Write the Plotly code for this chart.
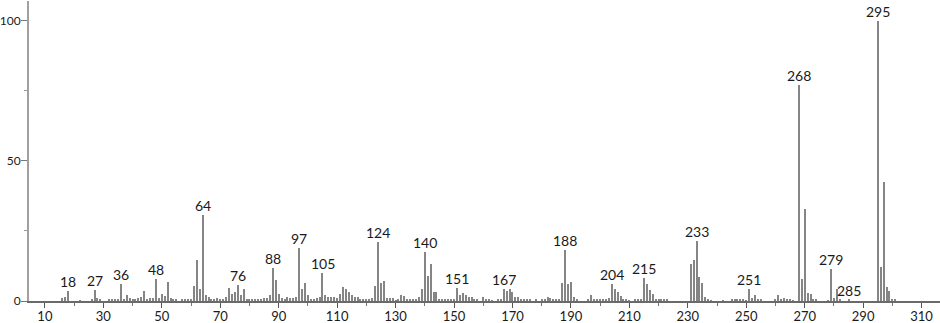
import plotly.graph_objects as go

# m/z values and relative intensities
mz = [16, 17, 18, 22, 26, 27, 28, 29, 32, 33, 34, 35, 36, 37, 38, 39, 40, 41, 42, 43,
      44, 45, 46, 47, 48, 49, 50, 51, 52, 53, 54, 55, 57, 58, 59, 60, 61, 62, 63, 64,
      65, 66, 67, 68, 69, 70, 71, 72, 73, 74, 75, 76, 77, 78, 79, 80, 81, 82, 83, 84,
      85, 86, 87, 88, 89, 90, 91, 92, 93, 94, 95, 96, 97, 98, 99, 100, 101, 102, 103, 104,
      105, 106, 107, 108, 109, 110, 111, 112, 113, 114, 115, 116, 117, 118, 119, 120, 121, 122, 123, 124,
      125, 126, 127, 128, 129, 130, 131, 132, 133, 134, 135, 136, 137, 138, 139, 140, 141, 142, 143, 144,
      145, 146, 147, 148, 149, 150, 151, 152, 153, 154, 155, 156, 157, 158, 160, 161, 162, 163, 165, 166,
      167, 168, 169, 170, 171, 172, 173, 174, 175, 176, 178, 180, 181, 182, 183, 184, 185, 186, 187, 188,
      189, 190, 191, 192, 196, 197, 198, 199, 200, 201, 202, 203, 204, 205, 206, 207, 208, 209, 210, 212,
      213, 214, 215, 216, 217, 218, 219, 220, 221, 222, 223, 231, 232, 233, 234, 235, 236, 237, 238, 242,
      245, 246, 247, 248, 249, 250, 251, 252, 253, 254, 255, 260, 261, 262, 263, 264, 265, 266, 268, 269,
      270, 271, 272, 273, 274, 278, 279, 280, 281, 282, 285, 295, 296, 297, 298, 299, 300, 301]
intensity = [1.0, 1.4, 3.6, 0.3, 0.5, 3.9, 1.2, 0.5, 0.8, 0.5, 0.6, 0.4, 6.2, 0.5, 2.1, 1.2, 0.6, 0.5, 1.1, 1.5,
             3.6, 0.5, 1.0, 1.0, 7.9, 1.0, 2.4, 1.9, 6.9, 1.1, 0.5, 0.5, 0.5, 0.5, 0.5, 0.8, 5.4, 14.6, 4.3, 30.8,
             2.1, 1.6, 0.7, 0.4, 1.0, 0.5, 0.4, 1.3, 4.6, 2.6, 3.1, 5.7, 2.1, 4.3, 0.8, 0.8, 0.6, 0.4, 0.4, 0.5,
             1.0, 1.0, 2.2, 11.7, 7.5, 2.5, 1.1, 0.5, 1.6, 1.0, 1.0, 1.5, 19.0, 4.3, 6.5, 2.0, 0.6, 0.6, 1.1, 1.3,
             9.9, 2.1, 1.3, 1.6, 1.3, 1.0, 2.4, 5.1, 4.4, 3.3, 2.0, 1.6, 1.3, 0.6, 0.5, 0.8, 0.5, 1.1, 5.4, 21.2,
             6.3, 7.1, 1.2, 1.0, 1.0, 0.3, 0.5, 2.2, 1.8, 0.8, 0.6, 0.6, 0.5, 1.3, 4.4, 17.5, 8.9, 13.2, 3.3, 3.3,
             0.8, 0.5, 0.4, 0.4, 0.5, 0.5, 4.8, 2.2, 2.7, 2.2, 1.4, 1.6, 0.8, 0.5, 1.6, 0.4, 0.8, 0.3, 0.5, 0.6,
             4.3, 3.6, 4.3, 3.3, 1.3, 1.3, 0.6, 0.4, 0.4, 0.4, 0.5, 0.7, 0.8, 1.3, 1.2, 0.5, 0.5, 0.6, 6.5, 18.2,
             6.2, 6.9, 1.3, 0.4, 0.4, 2.1, 0.4, 0.4, 0.4, 0.4, 0.4, 1.0, 6.2, 4.3, 3.2, 1.8, 0.8, 0.5, 0.3, 0.4,
             0.4, 0.4, 8.1, 6.2, 3.9, 2.4, 0.5, 0.4, 0.4, 0.4, 0.4, 13.2, 14.6, 21.4, 8.5, 6.5, 1.5, 0.4, 0.3, 0.3,
             0.4, 0.4, 0.5, 0.5, 0.5, 0.3, 4.2, 1.2, 2.0, 0.4, 0.4, 0.5, 2.3, 0.6, 1.2, 0.8, 0.4, 0.3, 77.0, 7.7,
             32.7, 2.7, 2.4, 0.5, 0.4, 0.3, 11.3, 1.2, 4.2, 0.5, 0.5, 100.0, 12.1, 42.6, 5.1, 3.6, 0.5, 0.4]

labelled_peaks = [18, 27, 36, 48, 64, 76, 88, 97, 105, 124, 140, 151, 167, 188,
                  204, 215, 233, 251, 268, 279, 285, 295]

x_tick_values = [10, 30, 50, 70, 90, 110, 130, 150, 170, 190, 210, 230, 250, 270, 290, 310]
y_tick_values = [0, 50, 100]

FONT = "Lato"
lookup = dict(zip(mz, intensity))

fig = go.Figure()
fig.add_trace(go.Bar(
    x=mz, y=intensity, width=0.36,
    marker=dict(color="#858585", line=dict(width=0)),
    hoverinfo="x+y", showlegend=False,
))

for p in labelled_peaks:
    fig.add_annotation(
        x=p, y=lookup[p], text=str(p), showarrow=False,
        xanchor="center", yanchor="bottom", yshift=-1,
        font=dict(family=FONT, size=14, color="#1a1a1a"),
    )

fig.update_layout(
    width=940, height=323,
    margin=dict(l=29, r=0, t=1, b=22, autoexpand=False),
    paper_bgcolor="white", plot_bgcolor="white",
    bargap=0,
    font=dict(family=FONT, size=12, color="#1a1a1a"),
)
fig.update_xaxes(
    range=[4.56, 316.3], automargin=False,
    tickmode="array", tickvals=x_tick_values, ticktext=[str(v) for v in x_tick_values],
    ticks="outside", ticklen=5, tickwidth=1, tickcolor="#555",
    ticklabelstandoff=-2,
    minor=dict(dtick=10, tick0=0, ticks="outside", ticklen=3, tickcolor="#777"),
    showline=True, linecolor="#6a6a6a", linewidth=1.5,
    showgrid=False, zeroline=False,
    tickfont=dict(family=FONT, size=13, color="#1a1a1a"),
)
fig.update_yaxes(
    range=[0, 107.1], automargin=False,
    tickmode="array", tickvals=y_tick_values, ticktext=[str(v) for v in y_tick_values],
    ticks="outside", ticklen=6, tickwidth=1, tickcolor="#777",
    ticklabelstandoff=-2,
    minor=dict(tickvals=[25, 75], ticks="outside", ticklen=3, tickcolor="#999"),
    showline=True, linecolor="#a0a0a0", linewidth=2,
    showgrid=False, zeroline=False,
    tickfont=dict(family=FONT, size=12, color="#1a1a1a"),
)

fig.write_html("out.html")
